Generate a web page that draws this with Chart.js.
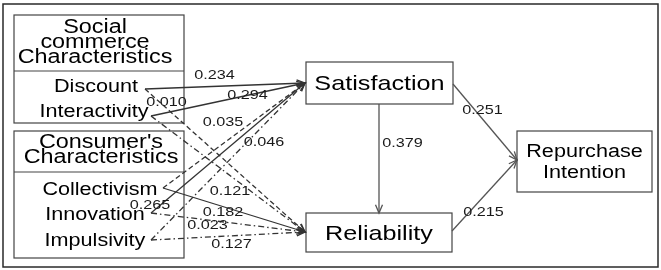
<!DOCTYPE html>
<html>
<head>
<meta charset="utf-8">
<script src="https://cdn.jsdelivr.net/npm/chart.js@4/dist/chart.umd.min.js"></script>
<style>
  html, body { margin: 0; padding: 0; background: #ffffff; }
  #wrap { width: 661px; height: 270px; }
</style>
</head>
<body>
<div id="wrap"><canvas id="c" width="661" height="270"></canvas></div>
<script>
// ---------------- DATA ----------------
const groupTitles = ["Social\ncommerce\nCharacteristics", "Consumer's\nCharacteristics"];
const groupItems = [["Discount", "Interactivity"], ["Collectivism", "Innovation", "Impulsivity"]];
const outcomes = ["Satisfaction", "Reliability", "Repurchase\nIntention"];
const pathFrom = ["Discount", "Discount", "Interactivity", "Interactivity", "Collectivism", "Collectivism",
                  "Innovation", "Innovation", "Impulsivity", "Impulsivity",
                  "Satisfaction", "Satisfaction", "Reliability"];
const pathTo = ["Satisfaction", "Reliability", "Satisfaction", "Reliability", "Satisfaction", "Reliability",
                "Satisfaction", "Reliability", "Satisfaction", "Reliability",
                "Reliability", "Repurchase\nIntention", "Repurchase\nIntention"];
const pathCoef = [0.234, 0.010, 0.294, 0.121, 0.035, 0.182, 0.265, 0.023, 0.046, 0.127, 0.379, 0.251, 0.215];

// ---------------- LAYOUT (diagram coordinates, in scale units) ----------------
const layout = {
  frame: { x0: 3, y0: 4, x1: 658, y1: 267 },
  groups: [
    { x0: 14, y0: 15, x1: 184, y1: 123, divider: 71, titleCx: 95, titleBase: [33, 48, 63] },
    { x0: 14, y0: 131, x1: 184, y1: 258, divider: 172, titleCx: 101, titleBase: [148, 163] }
  ],
  items: {
    "Discount":     { cx: 96,  base: 92,  out: { x: 145, y: 89 } },
    "Interactivity":{ cx: 94,  base: 117, out: { x: 151, y: 116 } },
    "Collectivism": { cx: 100, base: 195, out: { x: 163, y: 188 } },
    "Innovation":   { cx: 95,  base: 220, out: { x: 151, y: 213 } },
    "Impulsivity":  { cx: 95,  base: 246, out: { x: 151, y: 240 } }
  },
  boxes: {
    "Satisfaction":           { x0: 306, y0: 62,  x1: 453, y1: 104, font: 21, base: [90] },
    "Reliability":            { x0: 306, y0: 213, x1: 452, y1: 252, font: 21, base: [240] },
    "Repurchase\nIntention":  { x0: 517, y0: 131, x1: 652, y1: 192, font: 18, base: [157, 178] }
  },
  // ports: where an outgoing / incoming path touches a box
  inPort: {
    "Satisfaction": { x: 305, y: 83 },
    "Reliability": { x: 305, y: 232 },
    "Repurchase\nIntention": { x: 517, y: 160 }
  },
  outPort: {
    "Satisfaction|Reliability": { x: 379, y: 104 },
    "Satisfaction|Repurchase\nIntention": { x: 453, y: 84 },
    "Reliability|Repurchase\nIntention": { x: 452, y: 231 }
  },
  inPortOverride: {
    "Satisfaction|Reliability": { x: 379, y: 213 }
  },
  labelPos: [
    [214.5, 75], [166.5, 102], [247.5, 95], [230, 191], [223, 122], [223, 212],
    [150, 205], [207.5, 225], [264, 142], [231.5, 244], [402.5, 143], [482.5, 110], [483.5, 212]
  ]
};
const styles = {
  stretch: 1.2,
  font: "'Liberation Sans', Arial, sans-serif",
  dash: [[], [5, 3], [], [6, 3, 1.5, 3], [5, 3], [], [], [6, 3, 1.5, 3], [6, 3, 1.5, 3], [6, 3, 1.5, 3], [], [], []],
  lineColor: ["#333", "#333", "#333", "#333", "#333", "#333", "#333", "#333", "#333", "#333", "#555", "#555", "#555"]
};

// ---------------- BUILD DATASETS ----------------
function startOf(i) {
  const f = pathFrom[i];
  if (layout.items[f]) return layout.items[f].out;
  return layout.outPort[f + "|" + pathTo[i]];
}
function endOf(i) {
  const k = pathFrom[i] + "|" + pathTo[i];
  if (layout.inPortOverride[k]) return layout.inPortOverride[k];
  return layout.inPort[pathTo[i]];
}
const datasets = pathCoef.map((c, i) => ({
  label: pathFrom[i] + " -> " + pathTo[i],
  data: [startOf(i), endOf(i)],
  showLine: true,
  pointRadius: 0,
  borderColor: styles.lineColor[i],
  borderWidth: 1.3,
  borderDash: styles.dash[i],
  fill: false
}));

function stretchedText(ctx, txt, x, y, align) {
  ctx.save();
  ctx.translate(x, y);
  ctx.scale(styles.stretch, 1);
  ctx.textAlign = align || "center";
  ctx.fillText(txt, 0, 0);
  ctx.restore();
}

const diagramPlugin = {
  id: "diagram",
  beforeDatasetsDraw(chart) {
    const ctx = chart.ctx, xs = chart.scales.x, ys = chart.scales.y;
    const X = v => xs.getPixelForValue(v), Y = v => ys.getPixelForValue(v);
    ctx.save();
    // outer frame
    const fr = layout.frame;
    ctx.strokeStyle = "#2a2a2a"; ctx.lineWidth = 1.5;
    ctx.strokeRect(X(fr.x0), Y(fr.y0), X(fr.x1) - X(fr.x0), Y(fr.y1) - Y(fr.y0));
    // group boxes
    ctx.strokeStyle = "#444"; ctx.lineWidth = 1.2;
    layout.groups.forEach(g => {
      ctx.strokeRect(X(g.x0), Y(g.y0), X(g.x1) - X(g.x0), Y(g.y1) - Y(g.y0));
      ctx.beginPath(); ctx.moveTo(X(g.x0), Y(g.divider)); ctx.lineTo(X(g.x1), Y(g.divider)); ctx.stroke();
    });
    // outcome boxes
    outcomes.forEach(n => {
      const b = layout.boxes[n];
      ctx.fillStyle = "#fff";
      ctx.fillRect(X(b.x0), Y(b.y0), X(b.x1) - X(b.x0), Y(b.y1) - Y(b.y0));
      ctx.strokeRect(X(b.x0), Y(b.y0), X(b.x1) - X(b.x0), Y(b.y1) - Y(b.y0));
    });
    ctx.restore();
  },
  afterDatasetsDraw(chart) {
    const ctx = chart.ctx, xs = chart.scales.x, ys = chart.scales.y;
    const X = v => xs.getPixelForValue(v), Y = v => ys.getPixelForValue(v);
    ctx.save();
    // arrowheads
    pathCoef.forEach((c, i) => {
      const s = startOf(i), e = endOf(i);
      const x1 = X(s.x), y1 = Y(s.y), x2 = X(e.x), y2 = Y(e.y);
      const a = Math.atan2(y2 - y1, x2 - x1), L = 9, w = 0.4;
      ctx.strokeStyle = styles.lineColor[i]; ctx.lineWidth = 1.3; ctx.setLineDash([]);
      ctx.beginPath();
      ctx.moveTo(x2 - L * Math.cos(a - w), y2 - L * Math.sin(a - w));
      ctx.lineTo(x2, y2);
      ctx.lineTo(x2 - L * Math.cos(a + w), y2 - L * Math.sin(a + w));
      ctx.stroke();
    });
    ctx.textBaseline = "alphabetic";
    ctx.fillStyle = "#000";
    // group titles
    layout.groups.forEach((g, gi) => {
      ctx.font = "19.5px " + styles.font;
      groupTitles[gi].split("\n").forEach((ln, li) => stretchedText(ctx, ln, X(g.titleCx), Y(g.titleBase[li])));
      ctx.font = "18px " + styles.font;
      groupItems[gi].forEach(it => {
        const p = layout.items[it];
        stretchedText(ctx, it, X(p.cx), Y(p.base));
      });
    });
    // outcome labels
    outcomes.forEach(n => {
      const b = layout.boxes[n];
      ctx.font = b.font + "px " + styles.font;
      n.split("\n").forEach((ln, li) => stretchedText(ctx, ln, X((b.x0 + b.x1) / 2), Y(b.base[li])));
    });
    // coefficients
    ctx.font = "13.5px " + styles.font;
    ctx.fillStyle = "#1a1a1a";
    ctx.textBaseline = "middle";
    pathCoef.forEach((c, i) => {
      const p = layout.labelPos[i];
      stretchedText(ctx, c.toFixed(3), X(p[0]), Y(p[1]));
    });
    ctx.restore();
  }
};

new Chart(document.getElementById("c"), {
  type: "scatter",
  data: { datasets },
  options: {
    responsive: false,
    animation: false,
    layout: { padding: 0 },
    plugins: { legend: { display: false }, tooltip: { enabled: false } },
    scales: {
      x: { type: "linear", min: 0, max: 661, display: false },
      y: { type: "linear", min: 0, max: 270, reverse: true, display: false }
    }
  },
  plugins: [diagramPlugin]
});
</script>
</body>
</html>
